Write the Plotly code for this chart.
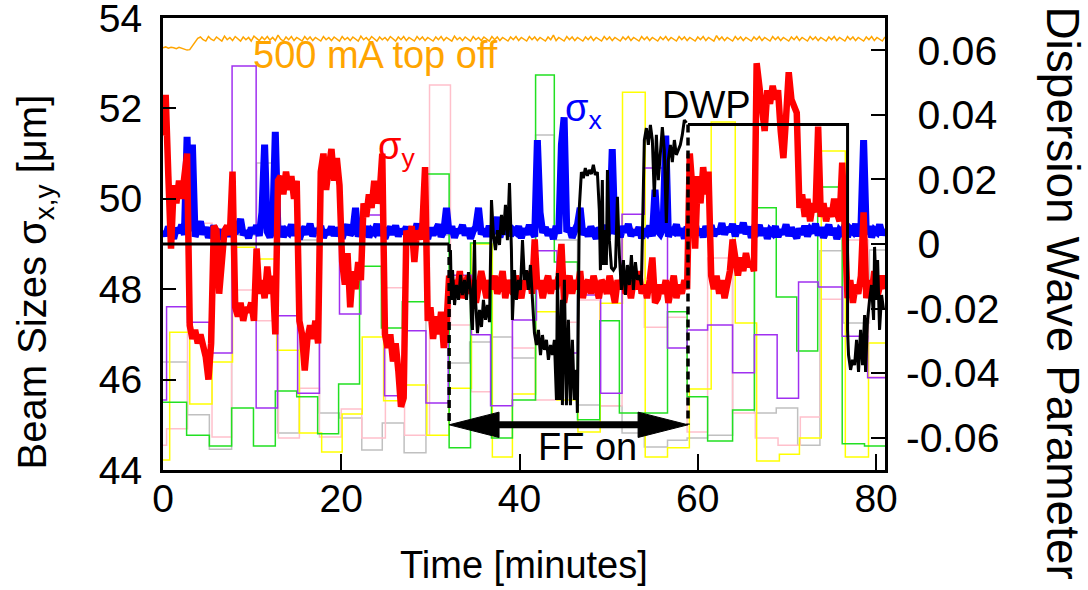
import numpy as np
import plotly.graph_objects as go

FONT = "Liberation Sans, Arial, Helvetica, sans-serif"
SAMPLE_STEP_MIN = 0.3  # sampling interval of the beam-size / current records

# ---- beam size sigma_y [um] (red) ----
sigma_y_um = [
    51.4, 52.3, 50.5, 48.9, 50.3, 49.9, 50.4, 50.0, 50.5, 51.0,
    47.2, 46.9, 47.1, 46.8, 47.0, 46.7, 46.5, 46.0, 46.8, 49.4,
    49.3, 47.9, 48.5, 49.3, 49.4, 49.2, 50.6, 47.6, 47.4, 47.7,
    47.3, 47.6, 47.5, 47.7, 47.3, 48.9, 47.9, 48.2, 47.8, 48.5,
    47.9, 48.3, 47.0, 50.4, 50.5, 50.1, 50.6, 50.2, 50.5, 50.0,
    50.4, 47.3, 47.0, 46.2, 46.9, 47.2, 46.9, 47.3, 46.8, 50.6,
    51.0, 50.2, 50.7, 51.1, 50.4, 50.9, 50.3, 48.6, 48.1, 48.8,
    47.6, 48.4, 48.0, 48.6, 48.2, 49.9, 49.6, 50.1, 49.8, 50.4,
    49.9, 50.1, 51.0, 47.0, 46.7, 47.0, 46.4, 46.8, 46.2, 45.4,
    45.6, 49.3, 49.0, 49.4, 48.6, 49.3, 49.1, 49.4, 50.7, 47.3,
    47.6, 46.9, 47.4, 47.0, 47.5, 46.7, 47.2, 48.3, 47.9, 48.2,
    48.0, 48.4, 47.8, 48.1, 48.3, 47.9, 48.2, 47.7, 48.0, 48.4,
    48.1, 47.8, 48.2, 48.0, 48.3, 47.9, 48.1, 48.4, 47.8, 48.2,
    48.0, 47.9, 48.3, 48.1, 47.8, 48.2, 48.0, 48.4, 47.9, 49.1,
    48.0, 48.2, 47.8, 48.1, 48.3, 47.9, 48.2, 48.0, 48.3, 49.0,
    47.7, 48.1, 48.3, 47.9, 48.2, 48.0, 48.4, 47.8, 48.1, 48.2,
    47.9, 48.3, 48.0, 47.8, 48.2, 48.1, 47.9, 48.3, 48.0, 47.7,
    48.2, 48.0, 48.3, 47.9, 48.1, 47.8, 48.2, 48.0, 48.4, 47.9,
    48.1, 47.8, 48.2, 48.7, 47.7, 47.8, 48.1, 47.9, 48.2, 47.7,
    48.0, 48.3, 47.8, 48.1, 47.9, 48.2, 48.0, 51.0, 50.2, 48.9,
    50.5, 49.9, 50.7, 50.1, 50.6, 48.3, 48.0, 48.3, 47.9, 48.2,
    47.8, 48.1, 48.4, 49.1, 48.6, 48.3, 48.7, 48.4, 48.8, 48.5,
    48.6, 48.4, 53.0, 52.3, 52.0, 51.5, 52.4, 52.1, 52.5, 52.2,
    52.4, 51.5, 50.9, 51.8, 52.8, 52.2, 52.0, 51.9, 49.8, 50.1,
    49.6, 50.0, 49.5, 49.9, 49.7, 51.6, 49.6, 49.9, 49.5, 49.8,
    49.6, 50.0, 49.7, 49.5, 50.8, 49.6, 47.8, 48.2, 47.7, 48.1,
    47.9, 48.3, 49.7, 47.8, 48.2, 47.9, 48.4, 47.8, 48.1, 48.3,
    48.0,
]

# ---- beam size sigma_x [um] (blue) ----
sigma_x_um = [
    49.30, 49.18, 49.38, 49.22, 49.12, 49.35, 49.25, 49.42, 49.20, 51.37,
    49.28, 51.20, 49.16, 49.33, 49.50, 49.21, 49.37, 49.14, 49.29, 49.40,
    49.19, 49.32, 49.10, 49.26, 49.38, 49.17, 49.31, 49.23, 49.44, 49.55,
    49.20, 49.29, 49.13, 49.36, 49.24, 49.41, 49.18, 49.70, 51.20, 49.27,
    49.15, 49.34, 51.48, 49.22, 49.39, 49.16, 49.30, 49.25, 49.43, 49.19,
    49.32, 49.11, 49.28, 49.37, 49.21, 49.45, 49.17, 49.33, 49.24, 49.40,
    49.14, 49.30, 49.22, 49.38, 49.18, 49.35, 49.26, 49.12, 49.31, 49.42,
    49.20, 49.28, 49.80, 49.16, 49.34, 49.23, 49.39, 49.15, 49.30, 49.25,
    49.44, 49.19, 49.33, 49.12, 49.29, 49.37, 49.21, 49.41, 49.17, 49.32,
    49.24, 49.38, 49.13, 49.30, 49.22, 49.45, 49.18, 49.34, 49.26, 49.11,
    49.36, 49.20, 49.31, 49.43, 49.16, 49.28, 49.80, 49.23, 49.39, 49.14,
    49.32, 49.25, 49.42, 49.19, 49.35, 49.12, 49.29, 49.38, 49.80, 49.21,
    49.33, 49.17, 49.40, 49.24, 49.30, 49.60, 49.15, 49.36, 49.22, 49.44,
    49.18, 49.31, 49.26, 49.39, 49.13, 49.34, 49.21, 49.42, 49.28, 49.16,
    51.30, 49.70, 49.25, 49.37, 49.19, 49.32, 49.11, 49.40, 49.23, 51.20,
    51.80, 49.27, 49.35, 49.14, 49.30, 49.43, 49.80, 49.20, 49.33, 49.17,
    49.38, 49.24, 49.12, 49.36, 49.28, 49.41, 49.19, 49.31, 51.10, 49.22,
    49.34, 49.15, 49.39, 49.26, 49.44, 49.18, 49.30, 49.21, 49.37, 49.13,
    49.32, 49.25, 49.40, 49.17, 50.20, 49.29, 49.22, 49.35, 51.40, 49.16,
    49.31, 49.27, 49.43, 49.19, 49.34, 49.12, 49.38, 49.24, 49.30, 49.45,
    49.20, 49.33, 49.15, 49.39, 49.26, 49.41, 49.18, 49.32, 49.23, 49.46,
    49.21, 49.36, 49.28, 49.44, 49.17, 49.40, 49.25, 49.47, 49.22, 49.38,
    49.14, 49.33, 49.27, 49.42, 49.19, 49.35, 49.12, 49.30, 49.24, 49.39,
    49.16, 49.31, 49.22, 49.43, 49.18, 49.36, 49.26, 49.13, 49.34, 49.21,
    49.40, 49.17, 49.32, 49.25, 49.45, 49.19, 49.37, 49.14, 49.29, 49.42,
    49.20, 49.35, 49.11, 49.30, 49.24, 49.41, 49.16, 49.33, 49.27, 49.44,
    49.18, 49.36, 51.30, 49.22, 49.39, 49.15, 49.31, 49.26, 49.43, 49.20,
    49.34,
]

# ---- 500 mA top-off current trace (orange, drawn on beam-size scale) ----
topoff_level = [
    53.34, 53.36, 53.33, 53.35, 53.34, 53.32, 53.35, 53.33, 53.31, 53.29,
    53.30, 53.38, 53.47, 53.55, 53.58, 53.52, 53.49, 53.59, 53.53, 53.50,
    53.58, 53.54, 53.49, 53.60, 53.52, 53.57, 53.50, 53.59, 53.53, 53.49,
    53.58, 53.52, 53.57, 53.49, 53.60, 53.54, 53.50, 53.58, 53.52, 53.59,
    53.51, 53.57, 53.50, 53.62, 53.53, 53.49, 53.58, 53.52, 53.59, 53.50,
    53.57, 53.53, 53.49, 53.59, 53.52, 53.58, 53.50, 53.57, 53.53, 53.49,
    53.59, 53.52, 53.57, 53.50, 53.58, 53.54, 53.49, 53.59, 53.52, 53.57,
    53.50, 53.58, 53.53, 53.49, 53.60, 53.52, 53.57, 53.50, 53.59, 53.53,
    53.49, 53.58, 53.52, 53.57, 53.50, 53.59, 53.53, 53.49, 53.58, 53.52,
    53.59, 53.50, 53.57, 53.53, 53.49, 53.59, 53.52, 53.58, 53.50, 53.57,
    53.53, 53.49, 53.58, 53.52, 53.59, 53.50, 53.57, 53.53, 53.49, 53.60,
    53.52, 53.57, 53.50, 53.58, 53.54, 53.49, 53.59, 53.52, 53.57, 53.50,
    53.58, 53.53, 53.49, 53.59, 53.52, 53.58, 53.50, 53.57, 53.53, 53.49,
    53.58, 53.52, 53.59, 53.50, 53.57, 53.53, 53.49, 53.59, 53.52, 53.58,
    53.50, 53.57, 53.53, 53.49, 53.58, 53.52, 53.62, 53.50, 53.57, 53.53,
    53.49, 53.59, 53.52, 53.58, 53.50, 53.57, 53.53, 53.49, 53.58, 53.52,
    53.59, 53.50, 53.57, 53.53, 53.49, 53.59, 53.52, 53.58, 53.50, 53.57,
    53.53, 53.49, 53.58, 53.52, 53.59, 53.50, 53.57, 53.53, 53.49, 53.59,
    53.52, 53.58, 53.50, 53.57, 53.53, 53.49, 53.58, 53.52, 53.59, 53.50,
    53.57, 53.53, 53.49, 53.59, 53.52, 53.58, 53.50, 53.57, 53.53, 53.49,
    53.58, 53.52, 53.59, 53.50, 53.57, 53.53, 53.49, 53.61, 53.52, 53.58,
    53.50, 53.57, 53.53, 53.49, 53.59, 53.52, 53.58, 53.50, 53.57, 53.53,
    53.49, 53.58, 53.52, 53.59, 53.50, 53.57, 53.53, 53.49, 53.59, 53.52,
    53.58, 53.50, 53.57, 53.53, 53.49, 53.58, 53.52, 53.59, 53.50, 53.57,
    53.53, 53.49, 53.59, 53.52, 53.58, 53.50, 53.57, 53.53, 53.49, 53.58,
    53.52, 53.59, 53.50, 53.57, 53.53, 53.49, 53.59, 53.52, 53.58, 53.50,
    53.57, 53.53, 53.49, 53.58, 53.52, 53.59, 53.50, 53.57, 53.53, 53.49,
    53.58,
]

time_min = np.round(np.arange(len(sigma_y_um)) * SAMPLE_STEP_MIN, 2)

# ---- stepped knob settings (thin lines), step start times [min] and levels ----
purple_t = [0, 0.4, 2.75, 5.2, 7.75, 10.45, 12.85, 15.1, 17.55, 19.8, 22.2, 24.85, 26.95, 29.5, 32.0,
            34.6, 36.75, 39.2, 41.9, 44.2, 46.5, 49.1, 51.5, 54.0, 56.6, 58.8, 61.1, 63.9, 66.35, 68.9,
            71.3, 73.5, 76.2, 79.05, 81]
purple_v = [45.55, 47.61, 47.27, 46.59, 52.94, 45.37, 47.41, 45.70, 49.27, 47.45, 49.64, 45.64, 47.08, 45.48, 48.31,
            46.99, 45.42, 47.32, 48.85, 46.59, 47.87, 45.70, 49.66, 50.68, 46.70, 47.10, 47.21, 46.15, 46.99, 45.59,
            48.16, 48.05, 46.96, 46.04, 46.04]

pink_t = [0, 0.4, 2.75, 5.5, 7.7, 10.5, 12.95, 15.3, 17.55, 20.0, 22.3, 24.95, 27.1, 29.9, 32.25,
          34.6, 36.9, 39.2, 41.75, 44.2, 46.6, 49.0, 51.5, 54.0, 56.6, 58.8, 61.1, 63.9, 66.45, 69.0,
          71.5, 73.75, 76.2, 79.15, 81]
pink_v = [44.55, 44.91, 49.46, 44.73, 47.98, 47.30, 44.71, 45.81, 44.73, 45.35, 44.71, 48.03, 44.77, 52.52, 47.21,
          45.73, 48.03, 46.70, 45.55, 47.27, 47.76, 45.42, 49.35, 47.16, 47.38, 44.84, 48.69, 45.26, 44.71, 44.55,
          45.17, 47.78, 49.09, 46.06, 46.06]

green_t = [0, 2.65, 5.2, 7.7, 10.15, 12.6, 15.0, 17.35, 19.7, 22.05, 24.5, 26.85, 29.4, 32.1, 34.5,
           36.85, 39.2, 41.8, 43.9, 46.5, 49.0, 51.2, 56.6, 58.8, 61.1, 63.9, 66.35, 68.8, 71.1, 73.45,
           76.2, 78.7, 81]
green_v = [45.50, 44.77, 44.53, 45.37, 44.53, 45.75, 45.62, 44.80, 45.90, 48.51, 47.14, 47.72, 50.55, 44.49, 49.02,
           44.71, 45.55, 52.74, 48.60, 45.11, 47.30, 45.26, 47.50, 45.62, 44.64, 45.33, 49.80, 47.83, 46.63, 50.26,
           44.58, 44.53, 44.53]

yellow_t = [0, 0.75, 3.0, 5.5, 7.8, 10.3, 12.75, 15.3, 17.8, 20.1, 22.35, 24.75, 27.2, 29.6, 32.1,
            34.6, 36.95, 39.2, 41.8, 44.2, 46.55, 49.05, 51.55, 54.1, 56.6, 59.05, 61.5, 64.2, 66.6, 69.15,
            71.4, 73.85, 76.55, 79.15, 81]
yellow_v = [44.22, 47.05, 45.46, 46.39, 48.93, 48.67, 46.65, 44.82, 44.40, 45.24, 46.94, 45.53, 45.88, 44.77, 45.81,
            49.00, 44.29, 45.68, 47.50, 45.55, 44.84, 47.69, 52.36, 44.29, 44.49, 45.79, 51.70, 47.25, 44.20, 44.35,
            44.71, 51.06, 44.29, 46.81, 46.81]

gray_t = [0, 2.75, 5.2, 7.7, 10.5, 12.85, 15.3, 17.55, 19.8, 22.3, 24.6, 27.05, 29.5, 32.1, 34.4,
          36.85, 39.2, 41.8, 43.9, 46.5, 49.0, 51.5, 54.0, 56.6, 58.8, 61.1, 63.9, 66.35, 68.8, 71.2,
          73.7, 76.3, 79.25, 81]
gray_v = [46.39, 45.22, 44.46, 49.20, 50.79, 44.82, 49.09, 45.26, 45.15, 44.44, 45.04, 44.38, 49.20, 46.37, 46.83,
          46.94, 46.48, 51.41, 49.09, 45.44, 45.42, 44.82, 44.51, 44.66, 44.71, 44.77, 49.27, 45.26, 45.37, 44.55,
          48.85, 47.25, 48.87, 48.87]

# ---- dispersion wave parameter (right axis) ----
FF_START = 32.1      # feedback switched on [min]
FF_END = 58.9        # feedback switched off [min]
DWP_STEP_END = 76.8  # end of manual DWP setting [min]
DWP_OFF = 0.0
DWP_MANUAL = 0.037
ARROW_DWP = -0.056   # level of the "FF on" arrow on the DWP axis

dwp_ff_t = [32.25, 32.36, 32.48, 32.71, 32.93, 33.16, 33.38, 33.6, 33.83, 34.05,
            34.27, 34.5, 34.61, 34.72, 34.95, 35.06, 35.28, 35.51, 35.73, 35.95,
            36.18, 36.4, 36.63, 36.85, 37.07, 37.3, 37.52, 37.75, 37.97, 38.19,
            38.42, 38.64, 38.87, 39.09, 39.2, 39.43, 39.65, 39.88, 40.1, 40.33,
            40.55, 40.77, 41.0, 41.22, 41.45, 41.67, 41.9, 42.12, 42.35, 42.57,
            42.79, 43.02, 43.24, 43.47, 43.69, 43.91, 44.14, 44.25, 44.47, 44.7,
            44.81, 45.03, 45.26, 45.48, 45.71, 45.93, 46.15, 46.38, 46.49, 46.6,
            46.71, 46.94, 47.16, 47.38, 47.61, 47.83, 48.06, 48.28, 48.5, 48.73,
            48.95, 49.07, 49.29, 49.4, 49.63, 49.74, 49.86, 50.08, 50.31, 50.53,
            50.76, 50.98, 51.2, 51.43, 51.65, 51.88, 52.1, 52.32, 52.55, 52.77,
            53.0, 53.22, 53.45, 53.67, 54.0, 54.23, 54.45, 54.68, 54.9, 55.12,
            55.35, 55.57, 55.8, 56.02, 56.24, 56.47, 56.69, 56.92, 57.14, 57.37,
            57.59, 57.81, 58.04, 58.26, 58.49, 58.72]
dwp_ff_v = [-0.0019, -0.0173, -0.0081, -0.0189, -0.0127, -0.0173, -0.0096, -0.0158, -0.0111, -0.0173,
            -0.0087, -0.0142, -0.0235, -0.0266, 0.0012, -0.0173, -0.0276, -0.0204, -0.0257, -0.0173,
            -0.0235, -0.0189, -0.0242, 0.0136, 0.0028, -0.0019, 0.0043, -0.0003, 0.009, 0.0028,
            0.0121, 0.0012, 0.0189, -0.0019, -0.0235, -0.0081, -0.0173, -0.0111, -0.0142, 0.0012,
            -0.0111, -0.0081, -0.0142, -0.0065, -0.0173, -0.0276, -0.0313, -0.0266, -0.0344, -0.0282,
            -0.0328, -0.0297, -0.0359, -0.0313, -0.0344, -0.0297, -0.0483, -0.009, -0.0483, -0.0173,
            -0.0499, -0.0111, -0.0499, -0.0235, -0.0499, -0.0297, -0.0483, -0.039, -0.0523, -0.0266,
            0.0115, 0.0223, 0.0204, 0.0235, 0.0211, 0.0229, 0.0217, 0.0245, 0.0214, 0.0223,
            0.0105, -0.0081, 0.0198, -0.0065, 0.0043, -0.0065, 0.0229, 0.0012, -0.0074, -0.0081,
            -0.0071, 0.0146, -0.0034, -0.0142, -0.005, -0.0158, -0.0065, -0.0127, -0.0034, -0.0142,
            -0.0056, -0.0111, -0.0096, -0.0127, 0.0322, 0.0359, 0.0307, 0.0369, 0.0322, 0.0146,
            0.0338, 0.0198, 0.0291, 0.0362, 0.0291, 0.0065, 0.026, 0.0307, 0.0254, 0.0322,
            0.0276, 0.0291, 0.0307, 0.0338, 0.0384, 0.0375]

dwp_tail_t = [76.8, 76.91, 77.14, 77.36, 77.59, 77.81, 78.03, 78.26, 78.48, 78.71, 78.82,
              79.04, 79.27, 79.49, 79.72, 79.83, 80.05, 80.17, 80.39, 80.62, 80.84]
dwp_tail_v = [-0.0266, -0.0344, -0.039, -0.0359, -0.0375, -0.0297, -0.0396, -0.0266, -0.0375, -0.022, -0.0396,
              -0.0235, -0.0173, -0.0127, -0.0235, -0.0009, -0.0173, -0.005, -0.0266, -0.0158, -0.0204]

# axis settings
X_RANGE = [0, 81]
Y_RANGE = [44, 54]
Y2_RANGE = [-0.07, 0.07]
x_ticks = [0, 20, 40, 60, 80]
y_ticks = [44, 46, 48, 50, 52, 54]
y2_ticks = [-0.06, -0.04, -0.02, 0, 0.02, 0.04, 0.06]
NBSP = "\u00a0"
y2_ticktext = ["-0.06", "-0.04", "-0.02", NBSP + "0", NBSP + "0.02", NBSP + "0.04", NBSP + "0.06"]

fig = go.Figure()

for tt, vv, col in [(gray_t, gray_v, "#c0c0c0"), (pink_t, pink_v, "#ffc0cb"),
                    (yellow_t, yellow_v, "#ffff00"), (green_t, green_v, "#22e022"),
                    (purple_t, purple_v, "#a030f0")]:
    fig.add_trace(go.Scatter(x=tt, y=vv, mode="lines", hoverinfo="skip",
                             line=dict(color=col, width=1.5, shape="hv")))

fig.add_trace(go.Scatter(x=time_min, y=topoff_level, mode="lines", hoverinfo="skip",
                         line=dict(color="#ffa500", width=1.5)))
fig.add_trace(go.Scatter(x=time_min, y=sigma_x_um, mode="lines", hoverinfo="skip",
                         line=dict(color="#0000ff", width=7)))
fig.add_trace(go.Scatter(x=time_min, y=sigma_y_um, mode="lines", hoverinfo="skip",
                         line=dict(color="#ff0000", width=6.5)))

# DWP: setting before feedback, dashed switch lines, measured during FF, manual setting after
fig.add_trace(go.Scatter(x=[0, FF_START], y=[DWP_OFF, DWP_OFF], yaxis="y2", mode="lines",
                         hoverinfo="skip", line=dict(color="black", width=3)))
fig.add_trace(go.Scatter(x=[FF_START, FF_START, None, FF_END, FF_END],
                         y=[DWP_OFF, ARROW_DWP, None, DWP_MANUAL, ARROW_DWP], yaxis="y2",
                         mode="lines", hoverinfo="skip", line=dict(color="black", width=3.5, dash="8px,5px")))
fig.add_trace(go.Scatter(x=dwp_ff_t, y=dwp_ff_v, yaxis="y2", mode="lines", hoverinfo="skip",
                         line=dict(color="black", width=3)))
fig.add_trace(go.Scatter(x=[FF_END, DWP_STEP_END] + dwp_tail_t, y=[DWP_MANUAL, DWP_MANUAL] + dwp_tail_v,
                         yaxis="y2", mode="lines", hoverinfo="skip", line=dict(color="black", width=3)))

# double-headed "FF on" arrow (left-axis units)
ARROW_Y = Y_RANGE[0] + (ARROW_DWP - Y2_RANGE[0]) / (Y2_RANGE[1] - Y2_RANGE[0]) * (Y_RANGE[1] - Y_RANGE[0])
HEAD_LEN = 5.6
HEAD_HALF = 0.28
shapes = [
    dict(type="line", xref="x", yref="y", x0=FF_START + HEAD_LEN * 0.9, x1=FF_END - HEAD_LEN * 0.9,
         y0=ARROW_Y, y1=ARROW_Y, line=dict(color="black", width=7), layer="above"),
    dict(type="path", xref="x", yref="y", fillcolor="black", line=dict(color="black", width=1), layer="above",
         path=f"M {FF_START},{ARROW_Y} L {FF_START + HEAD_LEN},{ARROW_Y + HEAD_HALF} "
              f"L {FF_START + HEAD_LEN},{ARROW_Y - HEAD_HALF} Z"),
    dict(type="path", xref="x", yref="y", fillcolor="black", line=dict(color="black", width=1), layer="above",
         path=f"M {FF_END},{ARROW_Y} L {FF_END - HEAD_LEN},{ARROW_Y + HEAD_HALF} "
              f"L {FF_END - HEAD_LEN},{ARROW_Y - HEAD_HALF} Z"),
]

TXT = 38
annotations = [
    dict(x=23.8, y=53.18, xref="x", yref="y", text="500 mA top off", showarrow=False,
         font=dict(family=FONT, size=TXT, color="#ffa500")),
    dict(x=23.9, y=51.1, xref="x", yref="y", text="σ<sub>y</sub>", showarrow=False, xanchor="left",
         font=dict(family=FONT, size=TXT, color="#ff0000")),
    dict(x=44.9, y=51.95, xref="x", yref="y", text="σ<sub>x</sub>", showarrow=False, xanchor="left",
         font=dict(family=FONT, size=TXT, color="#0000ff")),
    dict(x=61.0, y=52.08, xref="x", yref="y", text="DWP", showarrow=False,
         font=dict(family=FONT, size=TXT, color="black")),
    dict(x=47.6, y=44.5, xref="x", yref="y", text="FF on", showarrow=False,
         font=dict(family=FONT, size=TXT, color="black")),
    dict(x=0.5, y=-0.21, xref="paper", yref="paper", text="Time [minutes]", showarrow=False,
         yanchor="middle", font=dict(family=FONT, size=38, color="black")),
    dict(x=-0.178, y=0.416, xref="paper", yref="paper", text="Beam Sizes σ<sub>x,y</sub> [μm]",
         showarrow=False, textangle=-90, xanchor="center", yanchor="middle",
         font=dict(family=FONT, size=40, color="black")),
    dict(x=1.247, y=0.39, xref="paper", yref="paper", text="Dispersion Wave Parameter",
         showarrow=False, textangle=90, xanchor="center", yanchor="middle",
         font=dict(family=FONT, size=46, color="black")),
]

axis_common = dict(showgrid=False, zeroline=False, ticks="inside", tickcolor="black", tickwidth=2,
                   linecolor="black", linewidth=3, automargin=False, ticklabeloverflow="allow")

fig.update_layout(
    width=1088, height=590,
    margin=dict(l=163, r=203, t=18, b=120),
    paper_bgcolor="white", plot_bgcolor="white",
    showlegend=False, hovermode=False,
    xaxis=dict(range=X_RANGE, tickvals=x_ticks, ticklen=16, showline=True, mirror=True,
               ticklabelstandoff=-8, tickfont=dict(family=FONT, size=39, color="black"), **axis_common),
    yaxis=dict(range=Y_RANGE, tickvals=y_ticks, ticklen=13, showline=True, mirror=True,
               ticklabelstandoff=10, tickfont=dict(family=FONT, size=39, color="black"), **axis_common),
    yaxis2=dict(range=Y2_RANGE, tickvals=y2_ticks, ticktext=y2_ticktext, ticklen=14, overlaying="y",
                side="right", showline=False, ticklabelstandoff=20,
                tickfont=dict(family=FONT, size=41, color="black"), **axis_common),
    shapes=shapes, annotations=annotations,
)

# remove the default page margin so the 1088x590 figure fills the window exactly
fig.write_html("out.html", config={"displayModeBar": False, "staticPlot": True},
               post_script="document.body.style.margin='0px';")
